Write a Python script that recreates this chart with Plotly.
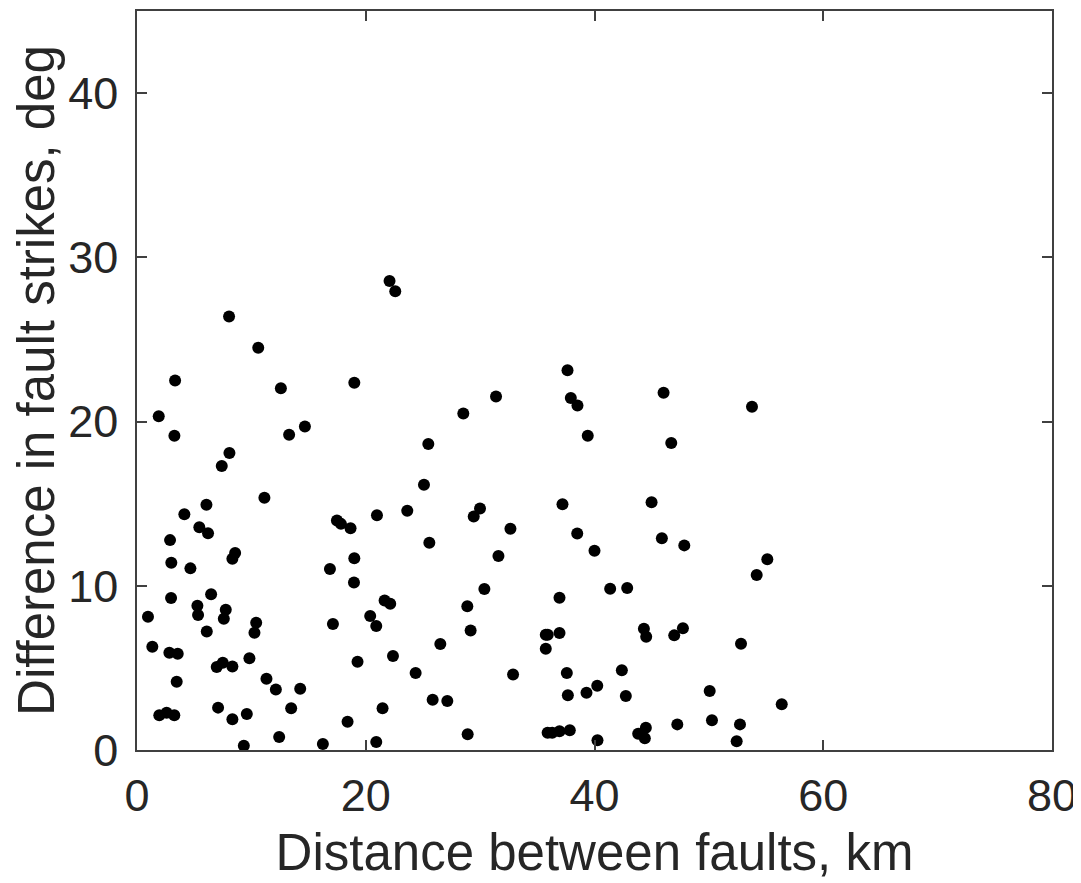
import plotly.graph_objects as go

distance_km = [
    8.05, 10.6, 3.33, 12.58, 19.0, 1.9, 3.27, 13.3, 14.68, 8.08,
    7.41, 11.14, 6.07, 4.14, 5.45, 6.21, 2.89, 8.58, 8.34, 3.0,
    4.67, 17.48, 17.83, 18.67, 19.0, 16.87, 18.97, 2.98, 6.48, 5.28,
    5.34, 7.76, 7.59, 0.96, 10.42, 10.27, 6.1, 17.13, 1.34, 2.83,
    3.56, 9.83, 6.97, 7.5, 8.34, 19.28, 3.47, 11.32, 12.14, 14.27,
    7.09, 8.34, 9.6, 13.48, 1.95, 2.59, 3.26, 18.41, 12.43, 9.34,
    16.25,
    22.08, 22.58, 31.39, 28.53, 25.47, 25.09, 20.98, 23.63, 29.99, 29.44,
    32.65, 25.56, 31.6, 30.37, 28.88, 21.65, 22.14, 20.39, 20.92, 29.17,
    35.74, 35.74, 26.52, 22.38, 24.36, 32.88, 25.85, 27.13, 21.47, 20.92,
    28.91,
    37.64, 37.93, 38.51, 46.04, 53.77, 39.41, 46.71, 37.2, 44.99, 38.49,
    45.89, 47.85, 40.0, 55.11, 54.18, 41.37, 42.86, 36.94, 35.91, 36.94,
    44.32, 44.52, 46.97, 47.73, 52.81, 37.58, 42.39, 37.67, 39.3, 40.24,
    42.74, 50.07, 56.37, 35.9, 36.3, 36.94, 37.84, 40.26, 43.82, 44.49,
    44.4, 47.24, 50.27, 52.72, 52.43,
]
strike_diff_deg = [
    26.4, 24.5, 22.5, 22.03, 22.36, 20.33, 19.13, 19.2, 19.7, 18.08,
    17.29, 15.36, 14.93, 14.36, 13.57, 13.2, 12.78, 11.99, 11.64, 11.4,
    11.06, 13.98, 13.77, 13.51, 11.67, 11.02, 10.2, 9.25, 9.48, 8.78,
    8.22, 8.54, 7.99, 8.11, 7.75, 7.14, 7.22, 7.67, 6.29, 5.92,
    5.86, 5.58, 5.05, 5.31, 5.09, 5.37, 4.16, 4.34, 3.69, 3.73,
    2.58, 1.87, 2.19, 2.54, 2.11, 2.27, 2.11, 1.72, 0.79, 0.26,
    0.37,
    28.56, 27.94, 21.53, 20.49, 18.64, 16.15, 14.3, 14.57, 14.71, 14.22,
    13.47, 12.62, 11.81, 9.8, 8.76, 9.11, 8.9, 8.16, 7.55, 7.28,
    7.02, 6.17, 6.45, 5.72, 4.69, 4.6, 3.06, 2.98, 2.54, 0.49,
    0.96,
    23.13, 21.44, 20.98, 21.75, 20.9, 19.13, 18.7, 14.97, 15.08, 13.19,
    12.9, 12.46, 12.13, 11.61, 10.65, 9.82, 9.86, 9.27, 7.02, 7.12,
    7.38, 6.9, 6.98, 7.41, 6.47, 4.69, 4.85, 3.33, 3.49, 3.91,
    3.29, 3.59, 2.78, 1.05, 1.05, 1.14, 1.2, 0.59, 0.99, 1.36,
    0.71, 1.56, 1.81, 1.56, 0.53,
]

x_ticks = [0, 20, 40, 60, 80]
y_ticks = [0, 10, 20, 30, 40]
x_title = "Distance between faults, km"
y_title = "Difference in fault strikes, deg"

font_family = "Liberation Sans, Arial, Helvetica, sans-serif"
text_color = "#262626"
axis_color = "#404040"

fig = go.Figure(
    go.Scatter(
        x=distance_km,
        y=strike_diff_deg,
        mode="markers",
        marker=dict(color="black", size=12, line=dict(width=0)),
        showlegend=False,
    )
)

axis_common = dict(
    showline=True,
    linecolor=axis_color,
    linewidth=1.5,
    mirror="allticks",
    ticks="inside",
    ticklen=10,
    tickwidth=1.5,
    tickcolor=axis_color,
    showgrid=False,
    zeroline=False,
    automargin=False,
    tickfont=dict(family=font_family, size=45, color=text_color),
)

fig.update_xaxes(
    range=[0, 80],
    tickvals=x_ticks,
    ticktext=[str(v) for v in x_ticks],
    title=dict(text=x_title, font=dict(family=font_family, size=51, color=text_color), standoff=15),
    ticklabelstandoff=5,
    **axis_common,
)
fig.update_yaxes(
    range=[0, 45],
    tickvals=y_ticks,
    ticktext=[str(v) for v in y_ticks],
    title=dict(text=y_title, font=dict(family=font_family, size=51, color=text_color), standoff=7),
    ticklabelstandoff=8,
    **axis_common,
)

fig.update_layout(
    width=1073,
    height=875,
    margin=dict(l=129, r=29, t=3, b=133),
    paper_bgcolor="white",
    plot_bgcolor="white",
)

fig.write_html("out.html")
